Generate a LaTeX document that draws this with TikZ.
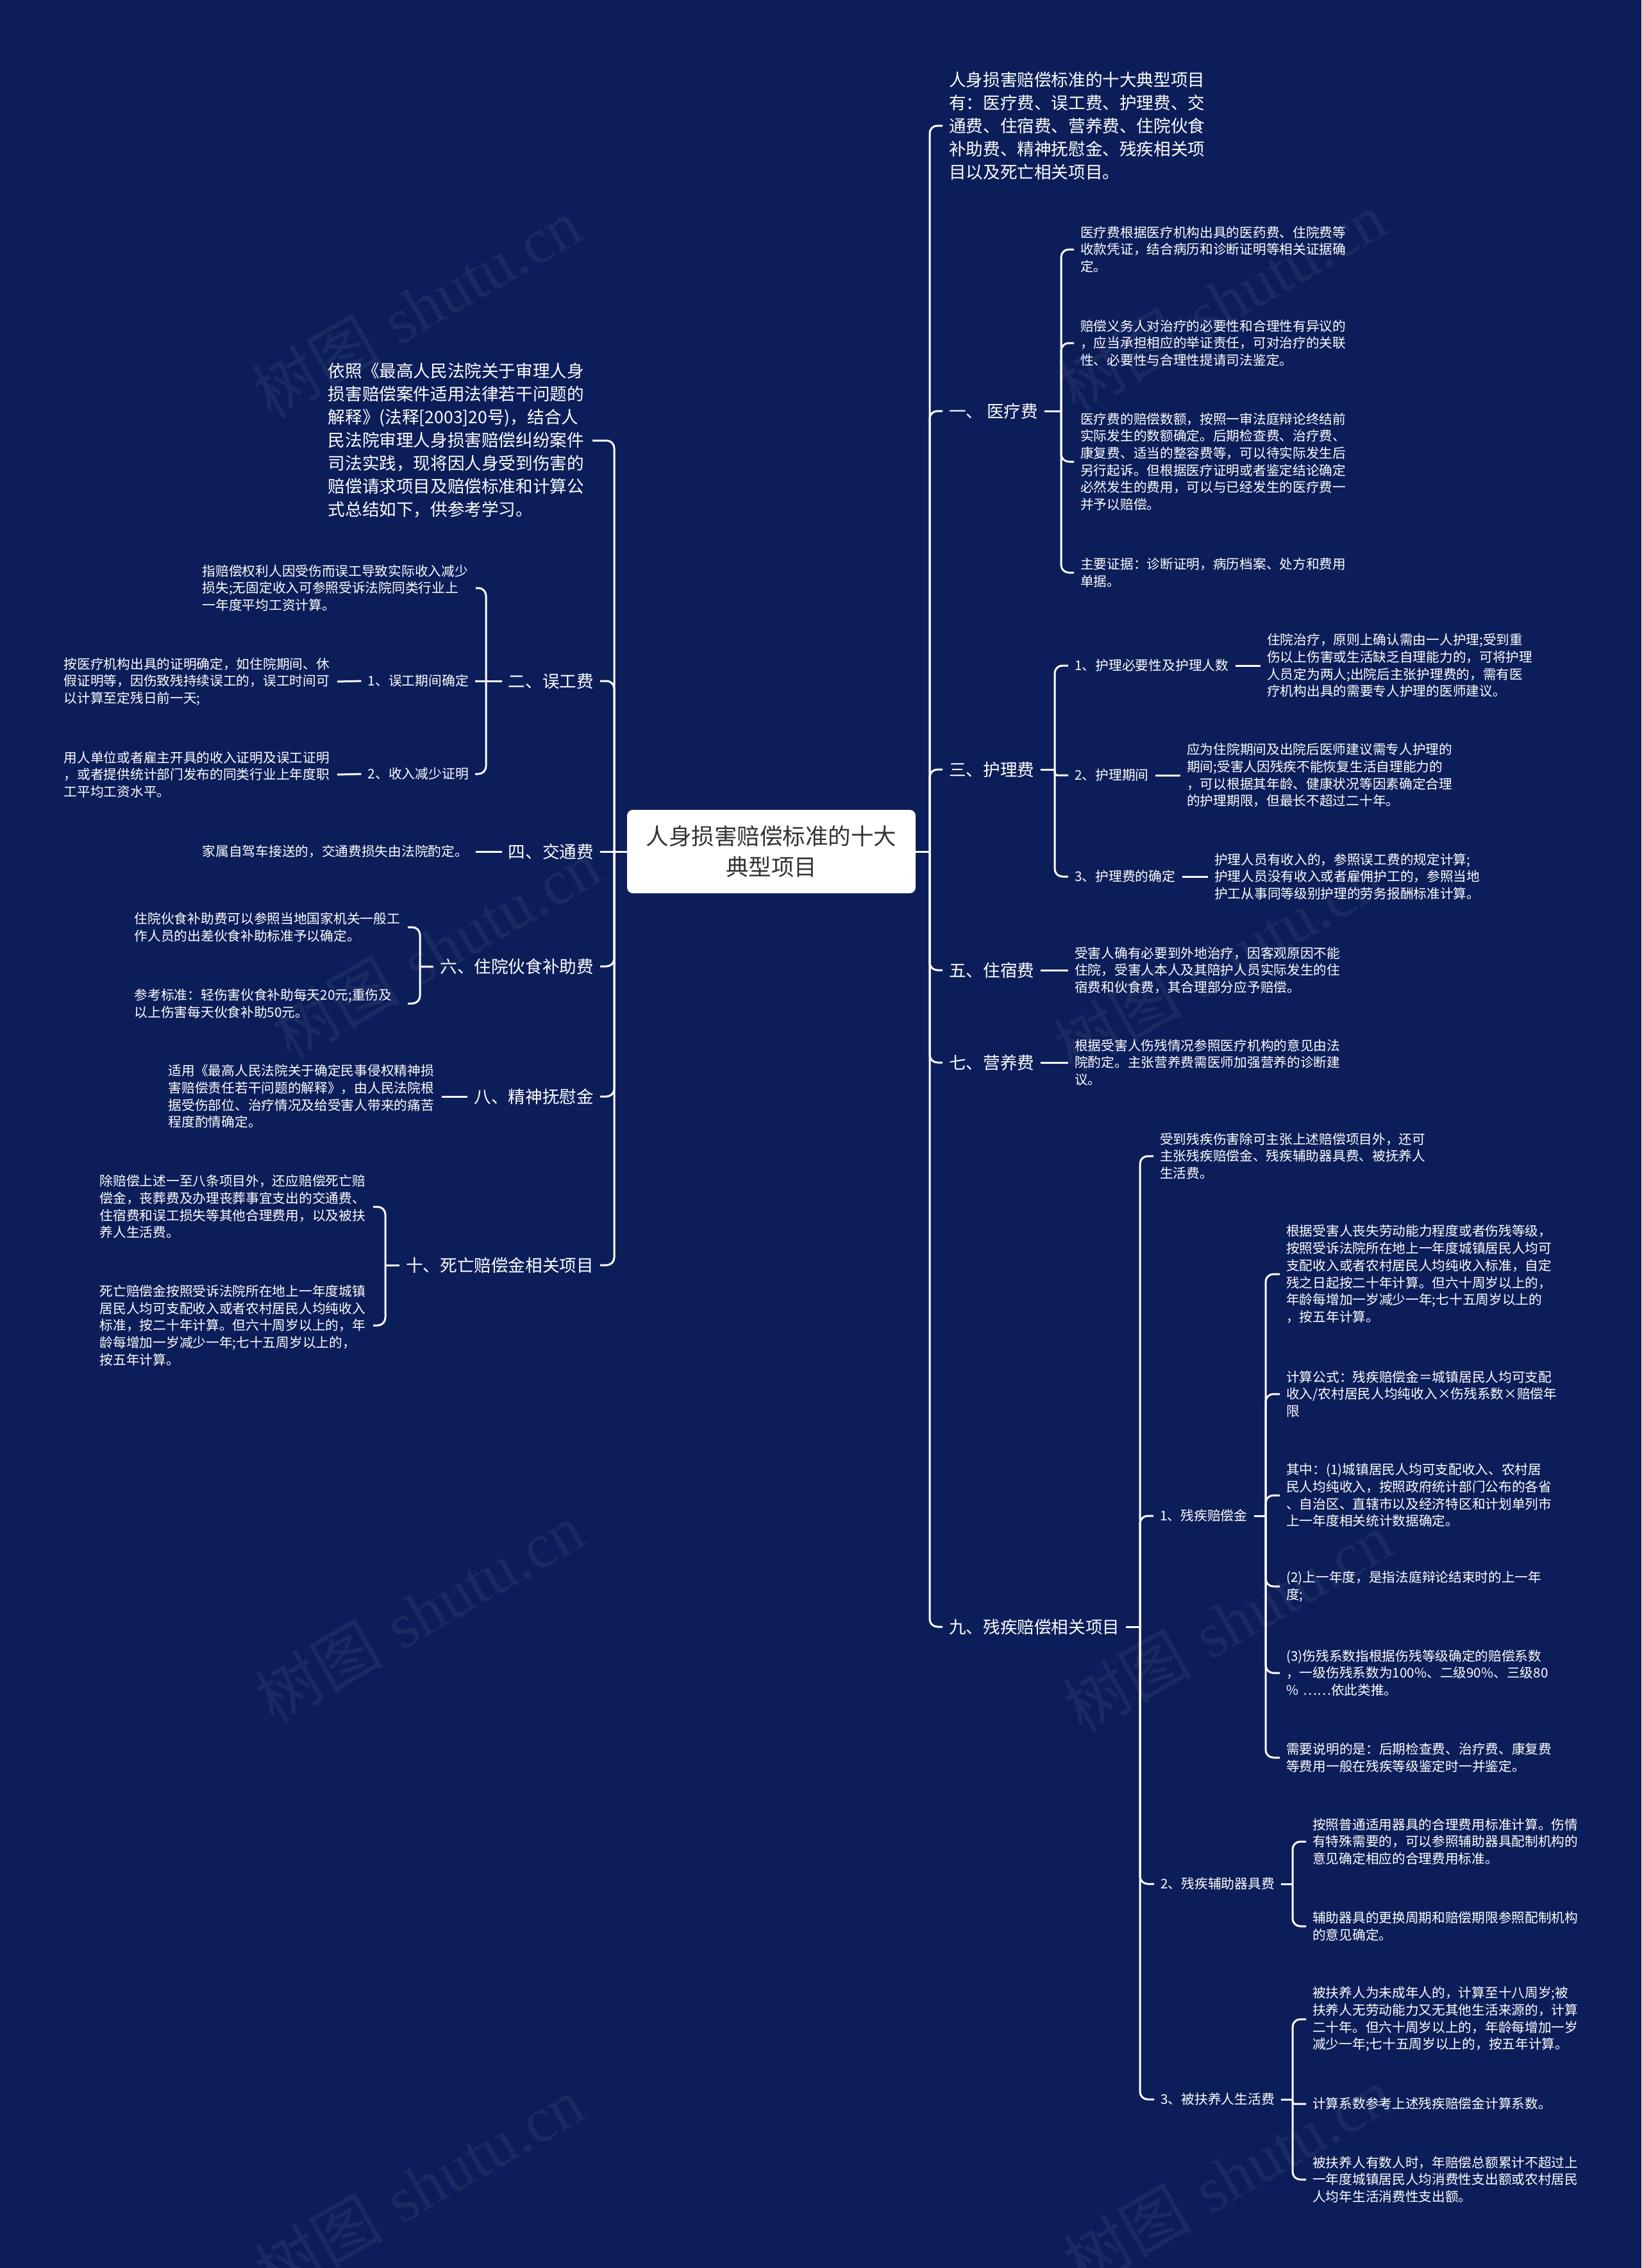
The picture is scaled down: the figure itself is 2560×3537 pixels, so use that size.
\documentclass[tikz,border=0pt]{standalone}
\usepackage{fontspec}
\newfontfamily\cjk{Noto Sans CJK SC}
\newfontfamily\wmser{Liberation Serif}
\definecolor{bgblue}{RGB}{12,30,89}
\definecolor{roottxt}{RGB}{51,51,51}
\tikzset{
  conn/.style={draw=white, line width=3pt, rounded corners=12pt},
  para/.style={font=\cjk\fontsize{26.6}{36}\selectfont, text=white, align=left, text width=402pt, inner xsep=10pt, inner ysep=2pt},
  lbl/.style={font=\cjk\fontsize{26.6}{32}\selectfont, text=white, inner xsep=10pt, inner ysep=2pt},
  sublbl/.style={font=\cjk\fontsize{20.8}{26.7}\selectfont, text=white, inner xsep=10pt, inner ysep=2pt},
  leaf/.style={font=\cjk\fontsize{20.7}{26.7}\selectfont, text=white, align=left, text width=416pt, inner xsep=10pt, inner ysep=2pt},
  rootbox/.style={fill=white, rounded corners=9pt, minimum width=450pt, minimum height=130pt, align=center, text=roottxt, font=\cjk\fontsize{35.5}{48}\selectfont, inner sep=0pt},
  wm/.style={font=\fontsize{100}{100}\selectfont, text=white, opacity=0.06, rotate=30}
}
\begin{document}
\begin{tikzpicture}[x=1pt,y=-1pt]
\useasboundingbox (0,0) rectangle (2560,3537);
\fill[bgblue] (0,0) rectangle (2560,3537);

% watermarks
\node[wm] (wm1) at (650,480) {{\cjk 树图} {\wmser shutu.cn}};
\node[wm] (wm2) at (1905,470) {{\cjk 树图} {\wmser shutu.cn}};
\node[wm] (wm3) at (680,1480) {{\cjk 树图} {\wmser shutu.cn}};
\node[wm] (wm4) at (1900,1500) {{\cjk 树图} {\wmser shutu.cn}};
\node[wm] (wm5) at (654,2515) {{\cjk 树图} {\wmser shutu.cn}};
\node[wm] (wm6) at (1915,2530) {{\cjk 树图} {\wmser shutu.cn}};
\node[wm] (wm7) at (654,3410) {{\cjk 树图} {\wmser shutu.cn}};
\node[wm] (wm8) at (1915,3395) {{\cjk 树图} {\wmser shutu.cn}};

% root
\node[rootbox] (root) at (1203,1328) {人身损害赔偿标准的十大\\典型项目};

% ---------- right side ----------
\node[para, anchor=west] (intro) at (1470,196) {人身损害赔偿标准的十大典型项目\\有：医疗费、误工费、护理费、交\\通费、住宿费、营养费、住院伙食\\补助费、精神抚慰金、残疾相关项\\目以及死亡相关项目。};
\node[lbl, anchor=west] (a1) at (1470,641) {一、 医疗费};
\node[lbl, anchor=west] (a3) at (1470,1200) {三、护理费};
\node[lbl, anchor=west] (a5) at (1470,1513) {五、住宿费};
\node[lbl, anchor=west] (a7) at (1470,1657) {七、营养费};
\node[lbl, anchor=west] (a9) at (1470,2537) {九、残疾赔偿相关项目};

\node[leaf, anchor=west] (a1l1) at (1675,389) {医疗费根据医疗机构出具的医药费、住院费等\\收款凭证，结合病历和诊断证明等相关证据确\\定。};
\node[leaf, anchor=west] (a1l2) at (1675,535) {赔偿义务人对治疗的必要性和合理性有异议的\\，应当承担相应的举证责任，可对治疗的关联\\性、必要性与合理性提请司法鉴定。};
\node[leaf, anchor=west] (a1l3) at (1675,720) {医疗费的赔偿数额，按照一审法庭辩论终结前\\实际发生的数额确定。后期检查费、治疗费、\\康复费、适当的整容费等，可以待实际发生后\\另行起诉。但根据医疗证明或者鉴定结论确定\\必然发生的费用，可以与已经发生的医疗费一\\并予以赔偿。};
\node[leaf, anchor=west] (a1l4) at (1675,893) {主要证据：诊断证明，病历档案、处方和费用\\单据。};

\node[sublbl, anchor=west] (a3s1) at (1666,1038) {1、护理必要性及护理人数};
\node[sublbl, anchor=west] (a3s2) at (1666,1209) {2、护理期间};
\node[sublbl, anchor=west] (a3s3) at (1666,1367) {3、护理费的确定};
\node[leaf, anchor=west] (a3l1) at (1966,1038) {住院治疗，原则上确认需由一人护理;受到重\\伤以上伤害或生活缺乏自理能力的，可将护理\\人员定为两人;出院后主张护理费的，需有医\\疗机构出具的需要专人护理的医师建议。};
\node[leaf, anchor=west] (a3l2) at (1841,1209) {应为住院期间及出院后医师建议需专人护理的\\期间;受害人因残疾不能恢复生活自理能力的\\，可以根据其年龄、健康状况等因素确定合理\\的护理期限，但最长不超过二十年。};
\node[leaf, anchor=west] (a3l3) at (1884,1367) {护理人员有收入的，参照误工费的规定计算;\\护理人员没有收入或者雇佣护工的，参照当地\\护工从事同等级别护理的劳务报酬标准计算。};

\node[leaf, anchor=west] (a5l) at (1666,1513) {受害人确有必要到外地治疗，因客观原因不能\\住院，受害人本人及其陪护人员实际发生的住\\宿费和伙食费，其合理部分应予赔偿。};
\node[leaf, anchor=west] (a7l) at (1666,1657) {根据受害人伤残情况参照医疗机构的意见由法\\院酌定。主张营养费需医师加强营养的诊断建\\议。};

\node[leaf, anchor=west] (a9c0) at (1799,1803) {受到残疾伤害除可主张上述赔偿项目外，还可\\主张残疾赔偿金、残疾辅助器具费、被抚养人\\生活费。};
\node[sublbl, anchor=west] (a9s1) at (1799,2364) {1、残疾赔偿金};
\node[sublbl, anchor=west] (a9s2) at (1800,2938) {2、残疾辅助器具费};
\node[sublbl, anchor=west] (a9s3) at (1800,3274) {3、被扶养人生活费};

\node[leaf, anchor=west] (a9s1l1) at (1996,1987) {根据受害人丧失劳动能力程度或者伤残等级，\\按照受诉法院所在地上一年度城镇居民人均可\\支配收入或者农村居民人均纯收入标准，自定\\残之日起按二十年计算。但六十周岁以上的，\\年龄每增加一岁减少一年;七十五周岁以上的\\，按五年计算。};
\node[leaf, anchor=west] (a9s1l2) at (1996,2174) {计算公式：残疾赔偿金＝城镇居民人均可支配\\收入/农村居民人均纯收入×伤残系数×赔偿年\\限};
\node[leaf, anchor=west] (a9s1l3) at (1996,2332) {其中：(1)城镇居民人均可支配收入、农村居\\民人均纯收入，按照政府统计部门公布的各省\\、自治区、直辖市以及经济特区和计划单列市\\上一年度相关统计数据确定。};
\node[leaf, anchor=west] (a9s1l4) at (1996,2474) {(2)上一年度，是指法庭辩论结束时的上一年\\度;};
\node[leaf, anchor=west] (a9s1l5) at (1996,2609) {(3)伤残系数指根据伤残等级确定的赔偿系数\\，一级伤残系数为100\%、二级90\%、三级80\\\% ……依此类推。};
\node[leaf, anchor=west] (a9s1l6) at (1996,2741) {需要说明的是：后期检查费、治疗费、康复费\\等费用一般在残疾等级鉴定时一并鉴定。};

\node[leaf, anchor=west] (a9s2l1) at (2037,2872) {按照普通适用器具的合理费用标准计算。伤情\\有特殊需要的，可以参照辅助器具配制机构的\\意见确定相应的合理费用标准。};
\node[leaf, anchor=west] (a9s2l2) at (2037,3004) {辅助器具的更换周期和赔偿期限参照配制机构\\的意见确定。};

\node[leaf, anchor=west] (a9s3l1) at (2037,3149) {被扶养人为未成年人的，计算至十八周岁;被\\扶养人无劳动能力又无其他生活来源的，计算\\二十年。但六十周岁以上的，年龄每增加一岁\\减少一年;七十五周岁以上的，按五年计算。};
\node[leaf, anchor=west] (a9s3l2) at (2037,3281) {计算系数参考上述残疾赔偿金计算系数。};
\node[leaf, anchor=west] (a9s3l3) at (2037,3399) {被扶养人有数人时，年赔偿总额累计不超过上\\一年度城镇居民人均消费性支出额或农村居民\\人均年生活消费性支出额。};

% right connectors
\coordinate (R) at (1450,1328);
\draw[conn] (root.east) -- (R);
\foreach \n in {intro,a1,a3,a5,a7,a9} \draw[conn] (R) |- (\n.west);

\coordinate (a1t) at (1655,641);
\draw[conn] (a1.east) -- (a1t);
\foreach \n in {a1l1,a1l2,a1l3,a1l4} \draw[conn] (a1t) |- (\n.west);

\coordinate (a3t) at (1645,1200);
\draw[conn] (a3.east) -- (a3t);
\draw[conn] (a3t) |- (a3s1.west);
\draw[conn, rounded corners=4pt] (a3t) |- (a3s2.west);
\draw[conn] (a3t) |- (a3s3.west);
\draw[conn] (a3s1.east) -- (a3l1.west);
\draw[conn] (a3s2.east) -- (a3l2.west);
\draw[conn] (a3s3.east) -- (a3l3.west);

\draw[conn] (a5.east) -- (a5l.west);
\draw[conn] (a7.east) -- (a7l.west);

\coordinate (a9t) at (1778,2537);
\draw[conn] (a9.east) -- (a9t);
\foreach \n in {a9c0,a9s1,a9s2,a9s3} \draw[conn] (a9t) |- (\n.west);

\coordinate (a9s1t) at (1974,2364);
\draw[conn] (a9s1.east) -- (a9s1t);
\foreach \n in {a9s1l1,a9s1l2,a9s1l3,a9s1l4,a9s1l5,a9s1l6} \draw[conn] (a9s1t) |- (\n.west);

\coordinate (a9s2t) at (2016,2938);
\draw[conn] (a9s2.east) -- (a9s2t);
\foreach \n in {a9s2l1,a9s2l2} \draw[conn] (a9s2t) |- (\n.west);

\coordinate (a9s3t) at (2016,3274);
\draw[conn] (a9s3.east) -- (a9s3t);
\draw[conn] (a9s3t) |- (a9s3l1.west);
\draw[conn, rounded corners=3pt] (a9s3t) |- (a9s3l2.west);
\draw[conn] (a9s3t) |- (a9s3l3.west);

% ---------- left side ----------
\node[para, anchor=east] (b0) at (924,687) {依照《最高人民法院关于审理人身\\损害赔偿案件适用法律若干问题的\\解释》(法释[2003]20号)，结合人\\民法院审理人身损害赔偿纠纷案件\\司法实践，现将因人身受到伤害的\\赔偿请求项目及赔偿标准和计算公\\式总结如下，供参考学习。};
\node[lbl, anchor=east] (b2) at (936,1062) {二、误工费};
\node[lbl, anchor=east] (b4) at (936,1328) {四、交通费};
\node[lbl, anchor=east] (b6) at (936,1507) {六、住院伙食补助费};
\node[lbl, anchor=east] (b8) at (936,1710) {八、精神抚慰金};
\node[lbl, anchor=east] (b10) at (936,1973) {十、死亡赔偿金相关项目};

\node[leaf, anchor=east] (b2l0) at (742,917) {指赔偿权利人因受伤而误工导致实际收入减少\\损失;无固定收入可参照受诉法院同类行业上\\一年度平均工资计算。};
\node[sublbl, anchor=east] (b2s1) at (741,1062) {1、误工期间确定};
\node[sublbl, anchor=east] (b2s2) at (741,1207) {2、收入减少证明};
\node[leaf, anchor=east] (b2l1) at (526,1063) {按医疗机构出具的证明确定，如住院期间、休\\假证明等，因伤致残持续误工的，误工时间可\\以计算至定残日前一天;};
\node[leaf, anchor=east] (b2l2) at (526,1208) {用人单位或者雇主开具的收入证明及误工证明\\，或者提供统计部门发布的同类行业上年度职\\工平均工资水平。};

\node[leaf, anchor=east] (b4l) at (742,1328) {家属自驾车接送的，交通费损失由法院酌定。};

\node[leaf, anchor=east] (b6l1) at (636,1446) {住院伙食补助费可以参照当地国家机关一般工\\作人员的出差伙食补助标准予以确定。};
\node[leaf, anchor=east] (b6l2) at (636,1565) {参考标准：轻伤害伙食补助每天20元;重伤及\\以上伤害每天伙食补助50元。};

\node[leaf, anchor=east] (b8l) at (689,1710) {适用《最高人民法院关于确定民事侵权精神损\\害赔偿责任若干问题的解释》，由人民法院根\\据受伤部位、治疗情况及给受害人带来的痛苦\\程度酌情确定。};

\node[leaf, anchor=east] (b10l1) at (582,1882) {除赔偿上述一至八条项目外，还应赔偿死亡赔\\偿金，丧葬费及办理丧葬事宜支出的交通费、\\住宿费和误工损失等其他合理费用，以及被扶\\养人生活费。};
\node[leaf, anchor=east] (b10l2) at (582,2067) {死亡赔偿金按照受诉法院所在地上一年度城镇\\居民人均可支配收入或者农村居民人均纯收入\\标准，按二十年计算。但六十周岁以上的，年\\龄每增加一岁减少一年;七十五周岁以上的，\\按五年计算。};

% left connectors
\coordinate (L) at (958,1328);
\draw[conn] (root.west) -- (L);
\foreach \n in {b0,b2,b6,b8,b10} \draw[conn] (L) |- (\n.east);
\draw[conn] (L) -- (b4.east);

\coordinate (b2t) at (758,1062);
\draw[conn] (b2.west) -- (b2t);
\draw[conn] (b2t) |- (b2l0.east);
\draw[conn] (b2t) -- (b2s1.east);
\draw[conn] (b2t) |- (b2s2.east);
\draw[conn] (b2s1.west) -- (b2l1.east);
\draw[conn] (b2s2.west) -- (b2l2.east);

\draw[conn] (b4.west) -- (b4l.east);

\coordinate (b6t) at (655,1507);
\draw[conn] (b6.west) -- (b6t);
\foreach \n in {b6l1,b6l2} \draw[conn] (b6t) |- (\n.east);

\draw[conn] (b8.west) -- (b8l.east);

\coordinate (b10t) at (601,1973);
\draw[conn] (b10.west) -- (b10t);
\foreach \n in {b10l1,b10l2} \draw[conn] (b10t) |- (\n.east);
\end{tikzpicture}
\end{document}
